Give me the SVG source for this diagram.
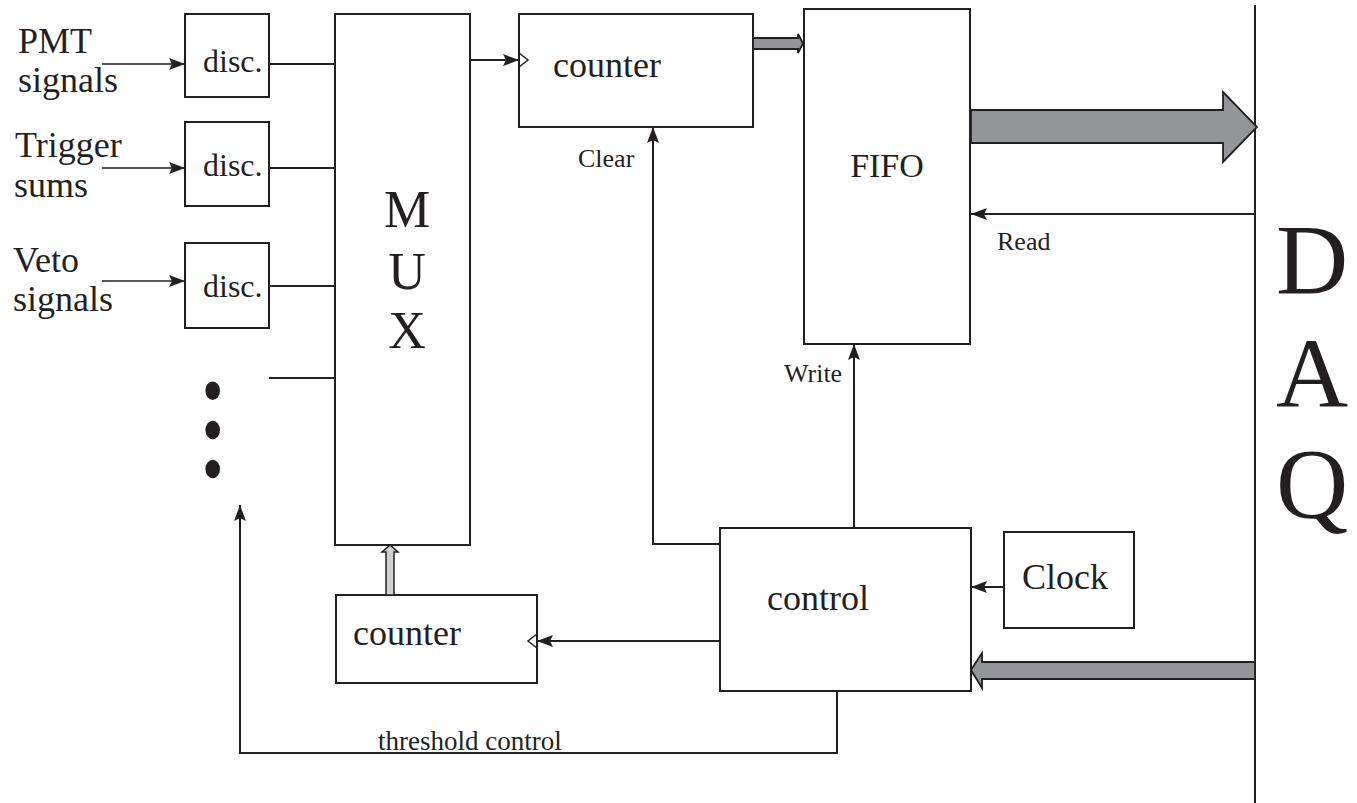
<svg xmlns="http://www.w3.org/2000/svg" width="1357" height="803" viewBox="0 0 1357 803">
<style>
.box{fill:#fff;stroke:#231f20;stroke-width:2}
.ln{fill:none;stroke:#231f20;stroke-width:2}
.thin{fill:none;stroke:#231f20;stroke-width:1.3}
.t{font-family:"Liberation Serif","Times New Roman",serif;fill:#231f20}
.bus{fill:#939598;stroke:#231f20;stroke-width:1.8}
.busl{fill:#cfd0d2;stroke:#231f20;stroke-width:1.5}
.chev{fill:none;stroke:#231f20;stroke-width:1.5}
</style>
<defs>
<marker id="ah" viewBox="0 0 16 12" refX="16" refY="6" markerWidth="16" markerHeight="12" markerUnits="userSpaceOnUse" orient="auto">
<path d="M0,0 L16,6 L0,12 L3,6 Z" fill="#231f20"/>
</marker>
</defs>

<g id="inputs-labels">
<text class="t" x="18" y="53" font-size="36">PMT</text>
<text class="t" x="18" y="92" font-size="36">signals</text>
<text class="t" x="15" y="157" font-size="36">Trigger</text>
<text class="t" x="14" y="197" font-size="36">sums</text>
<text class="t" x="13" y="272" font-size="36">Veto</text>
<text class="t" x="13" y="311" font-size="36">signals</text>
</g>

<g id="disc1"><rect class="box" x="185" y="14" width="84" height="83"/><text class="t" x="203" y="72" font-size="32">disc.</text></g>
<g id="disc2"><rect class="box" x="185" y="122" width="84" height="84"/><text class="t" x="203" y="176" font-size="32">disc.</text></g>
<g id="disc3"><rect class="box" x="185" y="243" width="84" height="85"/><text class="t" x="203" y="297" font-size="32">disc.</text></g>

<g id="dots">
<ellipse cx="212.7" cy="390.7" rx="7.3" ry="9.3" fill="#231f20"/>
<ellipse cx="212.7" cy="430" rx="7.3" ry="9.3" fill="#231f20"/>
<ellipse cx="212.7" cy="469" rx="7.3" ry="9.3" fill="#231f20"/>
</g>

<g id="mux">
<rect class="box" x="335" y="14" width="135" height="531"/>
<text class="t" x="407" y="227" font-size="52" text-anchor="middle">M</text>
<text class="t" x="407" y="289" font-size="52" text-anchor="middle">U</text>
<text class="t" x="407" y="348" font-size="52" text-anchor="middle">X</text>
</g>

<g id="counter-top">
<rect class="box" x="519" y="14" width="234" height="113"/>
<text class="t" x="553" y="77" font-size="36">counter</text>
<polyline class="chev" points="519,53 528,60 519,67"/>
</g>

<g id="fifo">
<rect class="box" x="804" y="9" width="166" height="335"/>
<text class="t" x="887" y="177" font-size="34" text-anchor="middle">FIFO</text>
</g>

<g id="counter-bottom">
<rect class="box" x="336" y="595" width="201" height="88"/>
<text class="t" x="353" y="645" font-size="36">counter</text>
<polyline class="chev" points="537,634 528,641 537,648"/>
</g>

<g id="control">
<rect class="box" x="720" y="528" width="251" height="163"/>
<text class="t" x="767" y="610" font-size="36">control</text>
</g>

<g id="clock">
<rect class="box" x="1004" y="532" width="130" height="96"/>
<text class="t" x="1022" y="589" font-size="36">Clock</text>
</g>

<g id="daq">
<line class="ln" x1="1255" y1="5" x2="1255" y2="803"/>
<text class="t" x="1312" y="293" font-size="100" text-anchor="middle">D</text>
<text class="t" x="1312" y="407" font-size="100" text-anchor="middle">A</text>
<text class="t" x="1312" y="517" font-size="100" text-anchor="middle">Q</text>
</g>

<g id="connectors">
<line class="thin" x1="102" y1="64" x2="185" y2="64" marker-end="url(#ah)"/>
<line class="thin" x1="102" y1="168" x2="185" y2="168" marker-end="url(#ah)"/>
<line class="thin" x1="102" y1="281" x2="185" y2="281" marker-end="url(#ah)"/>
<line class="ln" x1="269" y1="64" x2="335" y2="64"/>
<line class="ln" x1="269" y1="168" x2="335" y2="168"/>
<line class="ln" x1="269" y1="286" x2="335" y2="286"/>
<line class="ln" x1="269" y1="378" x2="335" y2="378"/>
<line class="ln" x1="470" y1="60" x2="519" y2="60" marker-end="url(#ah)"/>
<polygon class="bus" points="753,38 798,38 798,34 803,43.5 798,53 798,49 753,49"/>
<polygon class="bus" points="971,110 1223,110 1223,92 1257,127 1223,162 1223,143 971,143"/>
<line class="ln" x1="1255" y1="214" x2="971" y2="214" marker-end="url(#ah)"/>
<polyline class="ln" points="720,544 653,544 653,127" marker-end="url(#ah)"/>
<line class="ln" x1="854" y1="528" x2="854" y2="344" marker-end="url(#ah)"/>
<line class="ln" x1="1004" y1="587" x2="971" y2="587" marker-end="url(#ah)"/>
<line class="ln" x1="720" y1="641" x2="537" y2="641" marker-end="url(#ah)"/>
<polygon class="bus" points="1255,662 982,662 982,653 971,670 982,688 982,679 1255,679"/>
<polygon class="busl" points="386,595 386,552 382,552 390,545 398,552 394,552 394,595"/>
<polyline class="ln" points="837,691 837,753 240,753 240,505" marker-end="url(#ah)"/>
<text class="t" x="578" y="167" font-size="26">Clear</text>
<text class="t" x="997" y="250" font-size="26">Read</text>
<text class="t" x="784" y="382" font-size="26">Write</text>
<text class="t" x="378" y="750" font-size="27">threshold control</text>
</g>
</svg>
